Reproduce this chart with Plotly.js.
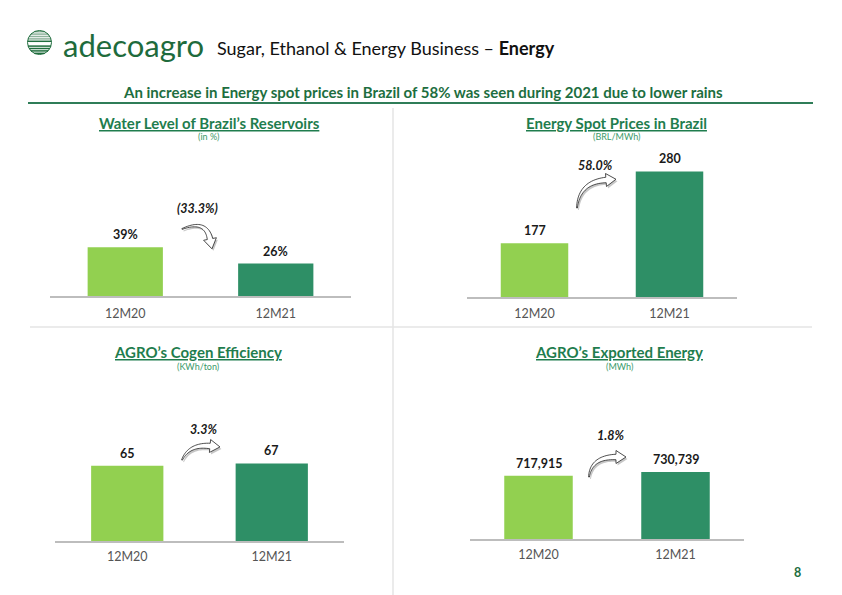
<!DOCTYPE html>
<html>
<head>
<meta charset="utf-8">
<script src="https://cdn.plot.ly/plotly-3.0.1.min.js"></script>
<style>html,body{margin:0;padding:0;background:#fff;}#chart{width:842px;height:595px;}</style>
</head>
<body>
<div id="chart"></div>
<script>
// ---------- DATA ----------
const categories = ['12M20', '12M21'];
const waterLevel = [39, 26];
const spotPrice = [177, 280];
const cogenEfficiency = [65, 67];
const exportedEnergy = [717915, 730739];
const waterLabels = ['39%', '26%'];
const spotLabels = ['177', '280'];
const cogenLabels = ['65', '67'];
const exportLabels = ['717,915', '730,739'];
const changeLabels = ['(33.3%)', '58.0%', '3.3%', '1.8%'];
const chartTitles = ["Water Level of Brazil\u2019s Reservoirs", 'Energy Spot Prices in Brazil', "AGRO\u2019s Cogen Efficiency", "AGRO\u2019s Exported Energy"];
const chartUnits = ['(in %)', '(BRL/MWh)', '(KWh/ton)', '(MWh)'];
const pageTitle = 'Sugar, Ethanol & Energy Business \u2013 <b>Energy</b>';
const headline = 'An increase in Energy spot prices in Brazil of 58% was seen during 2021 due to lower rains';
const pageNumber = '8';

// ---------- STYLE ----------
const W = 842, H = 595;
const FONT = 'Lato, "Open Sans", sans-serif';
const barColors = ['#92d050', '#2e8f66'];
const titleGreen = '#1f7d4e';
const px = v => v / W;
const py = v => 1 - v / H;

const series = [waterLevel, spotPrice, cogenEfficiency, exportedEnergy];
const seriesLabels = [waterLabels, spotLabels, cogenLabels, exportLabels];
// panel geometry in pixels: [xLeft, xRight, yTop, yBottom], plus y range
const panels = [
  {x0: 50, x1: 351, yt: 146, yb: 296, range: [0, 120], lab: 17, tx: 209, ty: 123},
  {x0: 467, x1: 737, yt: 140, yb: 297, range: [100, 325], lab: 16, tx: 616, ty: 123},
  {x0: 55, x1: 344, yt: 402, yb: 541, range: [0, 120], lab: 15, tx: 198, ty: 352},
  {x0: 470, x1: 744, yt: 452, yb: 539, range: [500000, 800000], lab: 15, tx: 619, ty: 352}
];
const arrows = [
  {T: [182, 229], C: [206, 219], E: [210, 239], label: [197, 209]},
  {T: [577, 208], C: [579, 182], E: [606, 180], label: [595, 165]},
  {T: [182, 460], C: [189, 444], E: [210, 446], label: [203, 429]},
  {T: [589, 477], C: [591, 457], E: [616, 457], label: [610, 436]}
];

const data = [];
const layout = {
  width: W, height: H, margin: {l: 0, r: 0, t: 0, b: 0},
  paper_bgcolor: '#fff', plot_bgcolor: 'rgba(0,0,0,0)',
  showlegend: false, bargap: 0.5,
  font: {family: FONT},
  annotations: [], shapes: []
};

series.forEach((vals, i) => {
  const n = i === 0 ? '' : String(i + 1);
  const p = panels[i];
  data.push({
    type: 'bar', x: categories, y: vals,
    xaxis: 'x' + n, yaxis: 'y' + n,
    marker: {color: barColors, line: {width: 0}},
    hoverinfo: 'skip'
  });
  layout['xaxis' + n] = {
    domain: [px(p.x0), px(p.x1)], anchor: 'y' + n,
    showline: true, linecolor: '#bdbdbd', linewidth: 1.5,
    showgrid: false, zeroline: false, ticks: '',
    ticklabelstandoff: p.lab - 12,
    tickfont: {family: FONT, size: 12.5, color: '#555555'},
    fixedrange: true
  };
  layout['yaxis' + n] = {
    domain: [py(p.yb), py(p.yt)], anchor: 'x' + n,
    range: p.range, visible: false, fixedrange: true
  };
  vals.forEach((v, j) => {
    layout.annotations.push({
      xref: 'x' + n, yref: 'y' + n, x: categories[j], y: v,
      text: seriesLabels[i][j], showarrow: false,
      yanchor: 'middle', yshift: 12.5,
      font: {family: FONT, size: 12.5, color: '#1a1a1a', weight: 700}
    });
  });
  // chart titles
  layout.annotations.push({
    xref: 'paper', yref: 'paper', x: px(p.tx), y: py(p.ty),
    text: '<u>' + chartTitles[i] + '</u>', showarrow: false,
    xanchor: 'center', yanchor: 'middle',
    font: {family: FONT, size: 15, color: titleGreen, weight: 700}
  });
  layout.annotations.push({
    xref: 'paper', yref: 'paper', x: px(p.tx), y: py(p.ty + 14),
    text: chartUnits[i], showarrow: false,
    xanchor: 'center', yanchor: 'middle',
    font: {family: FONT, size: 9, color: '#3a9a6a'}
  });
});

// curved block arrows
function arrowPath(T, C, E, dx, dy) {
  const N = 24, bodyW = 5.5, headW = 6.5, headLen = 10;
  const left = [], right = [];
  for (let i = 0; i <= N; i++) {
    const t = i / N;
    const P = [(1 - t) * (1 - t) * T[0] + 2 * (1 - t) * t * C[0] + t * t * E[0],
               (1 - t) * (1 - t) * T[1] + 2 * (1 - t) * t * C[1] + t * t * E[1]];
    const D = [2 * (1 - t) * (C[0] - T[0]) + 2 * t * (E[0] - C[0]),
               2 * (1 - t) * (C[1] - T[1]) + 2 * t * (E[1] - C[1])];
    const L = Math.hypot(D[0], D[1]);
    const nrm = [-D[1] / L, D[0] / L];
    const w = bodyW / 2 * (0.15 + 0.85 * t);
    left.push([P[0] + nrm[0] * w, P[1] + nrm[1] * w]);
    right.push([P[0] - nrm[0] * w, P[1] - nrm[1] * w]);
  }
  const d = [E[0] - C[0], E[1] - C[1]];
  const dl = Math.hypot(d[0], d[1]);
  const u = [d[0] / dl, d[1] / dl];
  const nE = [-u[1], u[0]];
  const tip = [E[0] + u[0] * headLen, E[1] + u[1] * headLen];
  const hl = [E[0] + nE[0] * headW, E[1] + nE[1] * headW];
  const hr = [E[0] - nE[0] * headW, E[1] - nE[1] * headW];
  const pts = [...left, hl, tip, hr, ...right.reverse()];
  return 'M ' + pts.map(q => px(q[0] + dx).toFixed(5) + ',' + py(q[1] + dy).toFixed(5)).join(' L ') + ' Z';
}
arrows.forEach((a, i) => {
  layout.shapes.push({type: 'path', xref: 'paper', yref: 'paper', path: arrowPath(a.T, a.C, a.E, 1.5, 2),
    fillcolor: 'rgba(0,0,0,0.22)', line: {width: 0}});
  layout.shapes.push({type: 'path', xref: 'paper', yref: 'paper', path: arrowPath(a.T, a.C, a.E, 0, 0),
    fillcolor: '#ffffff', line: {color: '#222', width: 0.8}});
  layout.annotations.push({
    xref: 'paper', yref: 'paper', x: px(a.label[0]), y: py(a.label[1]),
    text: '<i>' + changeLabels[i] + '</i>', showarrow: false, xanchor: 'center', yanchor: 'middle',
    font: {family: FONT, size: 12.5, color: '#1a1a1a', weight: 700}
  });
});

// page frame: header line, dividers
layout.shapes.push({type: 'line', xref: 'paper', yref: 'paper', x0: px(28), x1: px(813), y0: py(103), y1: py(103), line: {color: '#2f7d58', width: 2}});
layout.shapes.push({type: 'line', xref: 'paper', yref: 'paper', x0: px(393), x1: px(393), y0: py(108), y1: py(595), line: {color: '#e4e4e4', width: 1.5}});
layout.shapes.push({type: 'line', xref: 'paper', yref: 'paper', x0: px(30), x1: px(812), y0: py(327), y1: py(327), line: {color: '#e4e4e4', width: 1.5}});

// logo emblem: striped globe
const cx = 39.5, cy = 42.5, r = 12;
for (let k = 0; k < 10; k++) {
  const yy = cy - r + 1.2 + k * 2.4;
  const half = Math.sqrt(Math.max(0, r * r - (yy - cy) * (yy - cy)));
  const col = k < 4 ? '#8fb39c' : (k === 5 ? '#ffffff' : '#1f6d3d');
  layout.shapes.push({type: 'line', xref: 'paper', yref: 'paper', x0: px(cx - half), x1: px(cx + half), y0: py(yy), y1: py(yy), line: {color: col, width: 1.5}});
}
layout.shapes.push({type: 'circle', xref: 'paper', yref: 'paper', x0: px(cx - r), x1: px(cx + r), y0: py(cy + r), y1: py(cy - r), line: {color: '#1f6d3d', width: 1}});

// header texts
layout.annotations.push({xref: 'paper', yref: 'paper', x: px(61), y: py(45), xanchor: 'left', yanchor: 'middle', showarrow: false,
  text: 'adecoagro', font: {family: FONT, size: 31, color: '#1e6b3c'}});
layout.annotations.push({xref: 'paper', yref: 'paper', x: px(215), y: py(48), xanchor: 'left', yanchor: 'middle', showarrow: false,
  text: pageTitle, font: {family: FONT, size: 18, color: '#111'}});
layout.annotations.push({xref: 'paper', yref: 'paper', x: px(423.5), y: py(92), xanchor: 'center', yanchor: 'middle', showarrow: false,
  text: headline, font: {family: FONT, size: 15, color: '#1d6e40', weight: 700}});
layout.annotations.push({xref: 'paper', yref: 'paper', x: px(797), y: py(572), xanchor: 'center', yanchor: 'middle', showarrow: false,
  text: pageNumber, font: {family: FONT, size: 12.5, color: '#1d6e40', weight: 700}});

Plotly.newPlot('chart', data, layout, {staticPlot: true, displayModeBar: false});
</script>
</body>
</html>
